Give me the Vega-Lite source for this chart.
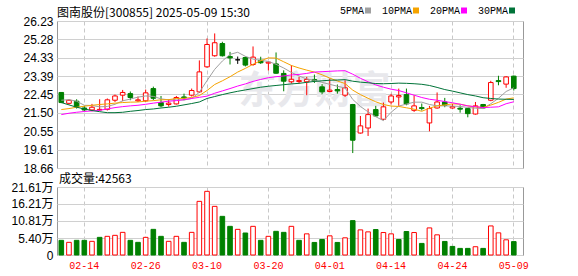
{
"$schema": "https://vega.github.io/schema/vega-lite/v6.json",
"background": "white",
"padding": {"left": 4, "top": 5, "right": 0, "bottom": 0},
"bounds": "flush",
"spacing": 19,
"config": {
  "view": {"stroke": "#999999", "strokeWidth": 1},
  "axis": {"gridColor": "#d0d0d0", "gridWidth": 1, "domain": false, "ticks": false, "tickSize": 0, "labelFont": "Liberation Sans, Noto Sans CJK SC", "labelFontSize": 12, "labelColor": "#000000", "title": null, "labelOverlap": false, "labelFlush": false}
},
"data": {"values": [
{"d":"02-11","o":22.55,"c":22.03,"h":22.56,"l":22.00,"k":"down","v":46600,"vk":"down","5PMA":22.15,"10PMA":21.67,"20PMA":21.41,"30PMA":22.03},
{"d":"02-12","o":21.99,"c":22.15,"h":22.20,"l":21.93,"k":"up","v":40200,"vk":"up","5PMA":22.18,"10PMA":21.72,"20PMA":21.48,"30PMA":21.91},
{"d":"02-13","o":22.10,"c":21.79,"h":22.20,"l":21.72,"k":"down","v":46600,"vk":"down","5PMA":22.10,"10PMA":21.79,"20PMA":21.53,"30PMA":21.79},
{"d":"02-14","o":21.75,"c":21.65,"h":21.86,"l":21.58,"k":"down","v":46600,"vk":"down","5PMA":21.89,"10PMA":21.84,"20PMA":21.57,"30PMA":21.70},
{"d":"02-17","o":21.65,"c":21.79,"h":21.96,"l":21.58,"k":"up","v":43400,"vk":"up","5PMA":21.88,"10PMA":21.89,"20PMA":21.60,"30PMA":21.62},
{"d":"02-18","o":21.65,"c":21.68,"h":22.20,"l":21.60,"k":"up","v":56100,"vk":"down","5PMA":21.81,"10PMA":21.93,"20PMA":21.63,"30PMA":21.56},
{"d":"02-19","o":21.68,"c":22.17,"h":22.24,"l":21.62,"k":"up","v":59300,"vk":"up","5PMA":21.83,"10PMA":21.96,"20PMA":21.70,"30PMA":21.51},
{"d":"02-20","o":22.15,"c":22.37,"h":22.44,"l":22.06,"k":"up","v":62500,"vk":"up","5PMA":21.94,"10PMA":22.00,"20PMA":21.77,"30PMA":21.51},
{"d":"02-21","o":22.41,"c":22.55,"h":22.68,"l":22.10,"k":"up","v":72000,"vk":"up","5PMA":22.12,"10PMA":22.03,"20PMA":21.82,"30PMA":21.53},
{"d":"02-24","o":22.49,"c":22.29,"h":22.60,"l":22.15,"k":"down","v":46600,"vk":"down","5PMA":22.21,"10PMA":22.05,"20PMA":21.86,"30PMA":21.58},
{"d":"02-25","o":22.12,"c":22.17,"h":22.34,"l":22.06,"k":"up","v":40200,"vk":"down","5PMA":22.31,"10PMA":22.06,"20PMA":21.89,"30PMA":21.62},
{"d":"02-26","o":22.12,"c":22.53,"h":22.70,"l":22.06,"k":"up","v":56100,"vk":"up","5PMA":22.37,"10PMA":22.10,"20PMA":21.94,"30PMA":21.67},
{"d":"02-27","o":22.75,"c":22.25,"h":22.85,"l":22.15,"k":"down","v":81500,"vk":"down","5PMA":22.35,"10PMA":22.13,"20PMA":22.00,"30PMA":21.70},
{"d":"02-28","o":22.03,"c":21.86,"h":22.37,"l":21.79,"k":"down","v":59300,"vk":"down","5PMA":22.22,"10PMA":22.17,"20PMA":22.05,"30PMA":21.75},
{"d":"03-03","o":21.93,"c":22.00,"h":22.20,"l":21.82,"k":"up","v":43400,"vk":"up","5PMA":22.17,"10PMA":22.18,"20PMA":22.10,"30PMA":21.79},
{"d":"03-04","o":21.96,"c":22.29,"h":22.37,"l":21.93,"k":"up","v":59300,"vk":"up","5PMA":22.17,"10PMA":22.24,"20PMA":22.13,"30PMA":21.84},
{"d":"03-05","o":22.32,"c":22.27,"h":22.49,"l":22.15,"k":"down","v":40200,"vk":"down","5PMA":22.16,"10PMA":22.25,"20PMA":22.18,"30PMA":21.91},
{"d":"03-06","o":22.41,"c":22.65,"h":22.75,"l":22.34,"k":"up","v":72000,"vk":"up","5PMA":22.24,"10PMA":22.29,"20PMA":22.24,"30PMA":21.98},
{"d":"03-07","o":22.58,"c":23.61,"h":24.20,"l":22.53,"k":"up","v":170500,"vk":"up","5PMA":22.56,"10PMA":22.39,"20PMA":22.30,"30PMA":22.06},
{"d":"03-10","o":23.87,"c":25.02,"h":25.33,"l":23.82,"k":"up","v":202300,"vk":"up","5PMA":23.16,"10PMA":22.65,"20PMA":22.36,"30PMA":22.24},
{"d":"03-11","o":24.44,"c":25.11,"h":25.59,"l":24.39,"k":"up","v":154600,"vk":"up","5PMA":23.74,"10PMA":22.96,"20PMA":22.51,"30PMA":22.34},
{"d":"03-12","o":25.07,"c":24.44,"h":25.16,"l":24.40,"k":"down","v":122800,"vk":"down","5PMA":24.17,"10PMA":23.15,"20PMA":22.63,"30PMA":22.44},
{"d":"03-13","o":24.40,"c":24.33,"h":24.64,"l":23.99,"k":"down","v":91100,"vk":"down","5PMA":24.51,"10PMA":23.36,"20PMA":22.75,"30PMA":22.53},
{"d":"03-14","o":24.23,"c":24.23,"h":24.40,"l":24.02,"k":"flat","v":81500,"vk":"up","5PMA":24.62,"10PMA":23.60,"20PMA":22.88,"30PMA":22.61},
{"d":"03-17","o":24.35,"c":23.96,"h":24.40,"l":23.89,"k":"down","v":69900,"vk":"down","5PMA":24.41,"10PMA":23.79,"20PMA":22.99,"30PMA":22.68},
{"d":"03-18","o":23.99,"c":24.37,"h":24.92,"l":23.92,"k":"up","v":91100,"vk":"up","5PMA":24.27,"10PMA":24.00,"20PMA":23.12,"30PMA":22.75},
{"d":"03-19","o":24.21,"c":24.08,"h":24.39,"l":24.02,"k":"down","v":46600,"vk":"down","5PMA":24.20,"10PMA":24.18,"20PMA":23.22,"30PMA":22.82},
{"d":"03-20","o":24.06,"c":24.11,"h":24.16,"l":23.68,"k":"up","v":59300,"vk":"up","5PMA":24.15,"10PMA":24.33,"20PMA":23.31,"30PMA":22.87},
{"d":"03-21","o":24.02,"c":23.54,"h":24.61,"l":23.51,"k":"down","v":75200,"vk":"down","5PMA":24.00,"10PMA":24.32,"20PMA":23.36,"30PMA":22.91},
{"d":"03-24","o":23.53,"c":23.13,"h":23.69,"l":22.61,"k":"down","v":72000,"vk":"down","5PMA":23.81,"10PMA":24.13,"20PMA":23.40,"30PMA":22.95},
{"d":"03-25","o":23.10,"c":23.23,"h":23.96,"l":23.01,"k":"up","v":91100,"vk":"up","5PMA":23.58,"10PMA":23.94,"20PMA":23.45,"30PMA":22.99},
{"d":"03-26","o":23.11,"c":23.16,"h":23.35,"l":23.01,"k":"up","v":46600,"vk":"down","5PMA":23.40,"10PMA":23.81,"20PMA":23.48,"30PMA":23.02},
{"d":"03-27","o":23.10,"c":23.22,"h":23.35,"l":22.41,"k":"up","v":67200,"vk":"up","5PMA":23.24,"10PMA":23.70,"20PMA":23.53,"30PMA":23.07},
{"d":"03-28","o":23.22,"c":23.15,"h":23.47,"l":23.04,"k":"down","v":39900,"vk":"down","5PMA":23.18,"10PMA":23.60,"20PMA":23.60,"30PMA":23.12},
{"d":"03-31","o":22.84,"c":22.58,"h":22.98,"l":22.46,"k":"down","v":49400,"vk":"down","5PMA":23.07,"10PMA":23.46,"20PMA":23.62,"30PMA":23.15},
{"d":"04-01","o":22.60,"c":22.67,"h":23.27,"l":22.56,"k":"up","v":60900,"vk":"up","5PMA":22.97,"10PMA":23.29,"20PMA":23.64,"30PMA":23.18},
{"d":"04-02","o":22.70,"c":22.63,"h":22.96,"l":22.49,"k":"down","v":39900,"vk":"down","5PMA":22.87,"10PMA":23.14,"20PMA":23.66,"30PMA":23.19},
{"d":"04-03","o":22.41,"c":22.79,"h":23.18,"l":22.32,"k":"up","v":54600,"vk":"up","5PMA":22.78,"10PMA":23.01,"20PMA":23.67,"30PMA":23.21},
{"d":"04-07","o":21.93,"c":20.09,"h":21.96,"l":19.43,"k":"down","v":109200,"vk":"down","5PMA":22.19,"10PMA":22.67,"20PMA":23.49,"30PMA":23.13},
{"d":"04-08","o":20.46,"c":20.83,"h":21.34,"l":20.43,"k":"up","v":79800,"vk":"up","5PMA":21.83,"10PMA":22.44,"20PMA":23.28,"30PMA":23.08},
{"d":"04-09","o":20.72,"c":21.41,"h":21.72,"l":20.31,"k":"up","v":73500,"vk":"up","5PMA":21.55,"10PMA":22.25,"20PMA":23.10,"30PMA":23.05},
{"d":"04-10","o":21.67,"c":21.34,"h":21.86,"l":21.29,"k":"down","v":80900,"vk":"down","5PMA":21.30,"10PMA":22.07,"20PMA":22.94,"30PMA":23.01},
{"d":"04-11","o":21.17,"c":21.81,"h":22.03,"l":21.12,"k":"up","v":71400,"vk":"up","5PMA":21.10,"10PMA":21.93,"20PMA":22.82,"30PMA":23.00},
{"d":"04-14","o":22.06,"c":22.37,"h":22.48,"l":21.93,"k":"up","v":67200,"vk":"up","5PMA":21.53,"10PMA":21.85,"20PMA":22.72,"30PMA":23.01},
{"d":"04-15","o":22.32,"c":22.39,"h":22.75,"l":21.86,"k":"up","v":49400,"vk":"down","5PMA":21.85,"10PMA":21.83,"20PMA":22.65,"30PMA":23.03},
{"d":"04-16","o":22.44,"c":21.96,"h":22.75,"l":21.89,"k":"down","v":74600,"vk":"down","5PMA":21.95,"10PMA":21.76,"20PMA":22.53,"30PMA":23.02},
{"d":"04-17","o":21.63,"c":21.86,"h":22.41,"l":21.55,"k":"up","v":71400,"vk":"up","5PMA":22.05,"10PMA":21.69,"20PMA":22.41,"30PMA":23.00},
{"d":"04-18","o":21.77,"c":21.72,"h":21.98,"l":21.62,"k":"down","v":36800,"vk":"down","5PMA":22.05,"10PMA":21.58,"20PMA":22.29,"30PMA":22.97},
{"d":"04-21","o":20.98,"c":21.72,"h":21.86,"l":20.55,"k":"up","v":86100,"vk":"up","5PMA":21.93,"10PMA":21.74,"20PMA":22.20,"30PMA":22.91},
{"d":"04-22","o":21.75,"c":22.06,"h":22.55,"l":21.72,"k":"up","v":64100,"vk":"up","5PMA":21.86,"10PMA":21.86,"20PMA":22.15,"30PMA":22.81},
{"d":"04-23","o":22.06,"c":21.89,"h":22.27,"l":21.79,"k":"down","v":43100,"vk":"down","5PMA":21.86,"10PMA":21.91,"20PMA":22.08,"30PMA":22.70},
{"d":"04-24","o":21.75,"c":21.82,"h":21.96,"l":21.72,"k":"up","v":27300,"vk":"down","5PMA":21.85,"10PMA":21.96,"20PMA":22.02,"30PMA":22.62},
{"d":"04-25","o":21.74,"c":21.69,"h":21.89,"l":21.51,"k":"down","v":21000,"vk":"down","5PMA":21.83,"10PMA":21.95,"20PMA":21.94,"30PMA":22.53},
{"d":"04-28","o":21.72,"c":21.46,"h":21.75,"l":21.27,"k":"down","v":21000,"vk":"down","5PMA":21.78,"10PMA":21.86,"20PMA":21.86,"30PMA":22.44},
{"d":"04-29","o":21.44,"c":21.86,"h":22.06,"l":21.41,"k":"up","v":26300,"vk":"up","5PMA":21.74,"10PMA":21.80,"20PMA":21.82,"30PMA":22.37},
{"d":"04-30","o":21.93,"c":21.75,"h":21.96,"l":21.72,"k":"down","v":21000,"vk":"down","5PMA":21.72,"10PMA":21.78,"20PMA":21.77,"30PMA":22.28},
{"d":"05-06","o":22.15,"c":23.06,"h":23.15,"l":22.10,"k":"up","v":92400,"vk":"up","5PMA":21.97,"10PMA":21.90,"20PMA":21.79,"30PMA":22.24},
{"d":"05-07","o":23.16,"c":23.11,"h":23.41,"l":22.92,"k":"down","v":70400,"vk":"up","5PMA":22.25,"10PMA":22.04,"20PMA":21.81,"30PMA":22.21},
{"d":"05-08","o":22.98,"c":23.35,"h":23.39,"l":22.79,"k":"up","v":48300,"vk":"up","5PMA":22.60,"10PMA":22.21,"20PMA":21.97,"30PMA":22.20},
{"d":"05-09","o":23.39,"c":22.75,"h":23.42,"l":22.65,"k":"down","v":42563,"vk":"down","5PMA":22.79,"10PMA":22.27,"20PMA":22.07,"30PMA":22.19}
]},
"vconcat": [
{
  "width": 466, "height": 147,
  "title": {"text": "图南股份[300855] 2025-05-09 15:30", "anchor": "start", "frame": "group", "baseline": "alphabetic", "offset": -14, "fontSize": 12, "fontWeight": "normal", "font": "Noto Sans CJK SC", "color": "#000000"},
  "encoding": {
    "x": {"field": "d", "type": "ordinal", "sort": null,
      "scale": {"domain": ["02-11","02-12","02-13","02-14","02-17","02-18","02-19","02-20","02-21","02-24","02-25","02-26","02-27","02-28","03-03","03-04","03-05","03-06","03-07","03-10","03-11","03-12","03-13","03-14","03-17","03-18","03-19","03-20","03-21","03-24","03-25","03-26","03-27","03-28","03-31","04-01","04-02","04-03","04-07","04-08","04-09","04-10","04-11","04-14","04-15","04-16","04-17","04-18","04-21","04-22","04-23","04-24","04-25","04-28","04-29","04-30","05-06","05-07","05-08","05-09"], "paddingInner": 0, "paddingOuter": 0.38, "align": 0.08},
      "axis": {"labels": false, "grid": true, "gridDash": [4, 3], "gridColor": "#c8c8c8", "bandPosition": 0.5, "values": ["02-14","02-26","03-10","03-20","04-01","04-14","04-24","05-09"]}}
  },
  "layer": [
    {"data": {"values": [{"wm": "东方财富"}]},
     "mark": {"type": "text", "fontSize": 38, "font": "Noto Sans CJK SC", "fontWeight": "bold", "color": "#e8e8ec", "align": "center", "baseline": "middle"},
     "encoding": {"x": {"datum": "03-28"}, "y": {"datum": 22.55, "type": "quantitative"}, "text": {"field": "wm"}}},
    {"mark": {"type": "rule", "strokeWidth": 1},
     "encoding": {
       "y": {"field": "l", "type": "quantitative", "scale": {"domain": [18.66, 26.23], "nice": false, "zero": false},
             "axis": {"values": [18.66, 19.61, 20.55, 21.50, 22.45, 23.39, 24.33, 25.28, 26.23], "tickCount": 9, "format": ".2f", "grid": true, "labelPadding": 4, "minExtent": 52, "maxExtent": 52, "labelOverlap": false}},
       "y2": {"field": "h"},
       "stroke": {"field": "k", "type": "nominal", "scale": {"domain": ["up", "down", "flat"], "range": ["#ff0000", "#008000", "#000000"]}, "legend": null}}},
    {"mark": {"type": "bar", "width": {"band": 0.6}, "strokeWidth": 1},
     "encoding": {
       "y": {"field": "o", "type": "quantitative"},
       "y2": {"field": "c"},
       "fill": {"field": "k", "type": "nominal", "scale": {"domain": ["up", "down", "flat"], "range": ["#ffffff", "#008000", "#000000"]}, "legend": null},
       "stroke": {"field": "k", "type": "nominal", "legend": null}}},
    {"transform": [{"fold": ["5PMA", "10PMA", "20PMA", "30PMA"], "as": ["ma", "val"]}],
     "mark": {"type": "line", "strokeWidth": 1},
     "encoding": {
       "y": {"field": "val", "type": "quantitative"},
       "color": {"field": "ma", "type": "nominal",
         "scale": {"domain": ["5PMA", "10PMA", "20PMA", "30PMA"], "range": ["#a0a0a0", "#f5a300", "#ff00ff", "#007338"]},
         "legend": {"orient": "none", "legendX": 306, "legendY": -15.5, "direction": "horizontal", "title": null, "symbolType": "square", "symbolSize": 4, "symbolStrokeWidth": 4, "labelAlign": "right", "labelOffset": -9, "labelFont": "Liberation Mono", "labelFontSize": 10, "labelColor": "#000000", "columnPadding": 4, "padding": 0}}}}
  ]
},
{
  "width": 466, "height": 68,
  "title": {"text": "成交量:42563", "anchor": "start", "frame": "group", "baseline": "alphabetic", "offset": -14, "dx": 2, "fontSize": 12, "fontWeight": "normal", "font": "Noto Sans CJK SC", "color": "#000000"},
  "mark": {"type": "bar", "width": {"band": 0.6}, "strokeWidth": 1},
  "encoding": {
    "x": {"field": "d", "type": "ordinal", "sort": null,
      "scale": {"domain": ["02-11","02-12","02-13","02-14","02-17","02-18","02-19","02-20","02-21","02-24","02-25","02-26","02-27","02-28","03-03","03-04","03-05","03-06","03-07","03-10","03-11","03-12","03-13","03-14","03-17","03-18","03-19","03-20","03-21","03-24","03-25","03-26","03-27","03-28","03-31","04-01","04-02","04-03","04-07","04-08","04-09","04-10","04-11","04-14","04-15","04-16","04-17","04-18","04-21","04-22","04-23","04-24","04-25","04-28","04-29","04-30","05-06","05-07","05-08","05-09"], "paddingInner": 0, "paddingOuter": 0.38, "align": 0.08},
      "axis": {"values": ["02-14","02-26","03-10","03-20","04-01","04-14","04-24","05-09"], "grid": true, "gridDash": [4, 3], "gridColor": "#c8c8c8", "bandPosition": 0.5, "labelColor": "#ff0000", "labelFont": "Liberation Mono", "labelFontSize": 10, "labelPadding": 5, "labelAngle": 0, "labelBaseline": "top", "labelOverlap": false}},
    "y": {"field": "v", "type": "quantitative", "scale": {"domain": [0, 216100], "nice": false},
      "axis": {"values": [0, 54000, 108100, 162100, 216100], "tickCount": 5, "labelExpr": "datum.value == 0 ? '0' : format(datum.value / 10000, '.2f') + '万'", "grid": true, "labelPadding": 4, "minExtent": 52, "maxExtent": 52}},
    "fill": {"field": "vk", "type": "nominal", "scale": {"domain": ["up", "down"], "range": ["#ffffff", "#008000"]}, "legend": null},
    "stroke": {"field": "vk", "type": "nominal", "scale": {"domain": ["up", "down"], "range": ["#ff0000", "#008000"]}, "legend": null}
  }
}
]
}
